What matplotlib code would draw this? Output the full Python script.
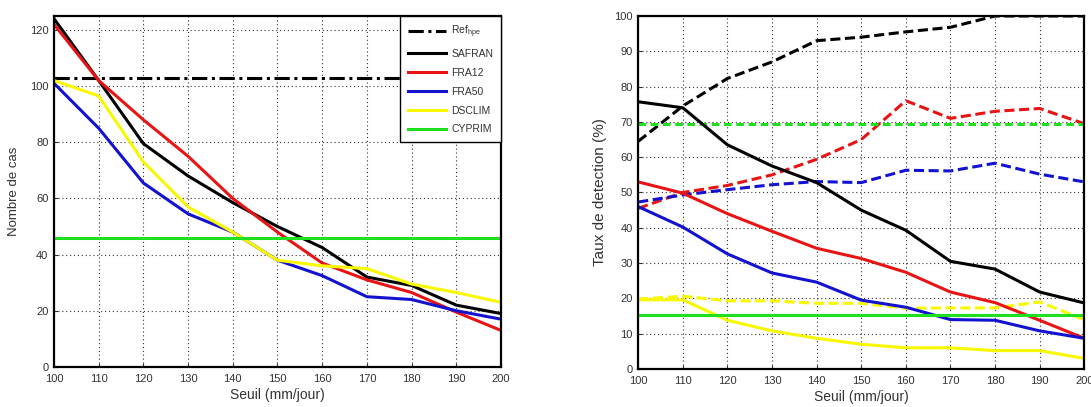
import matplotlib
matplotlib.use("Agg")
import matplotlib.pyplot as plt

seuil = [100, 110, 120, 130, 140, 150, 160, 170, 180, 190, 200]

# Left panel: Nombre de cas
ref_hpe = 103
safran_n = [124, 102, 79.5, 68, 58.5, 50, 42.5, 32, 29, 22, 19]
fra12_n = [122, 102, 88, 75, 60, 48, 37, 31, 26.5, 19.5, 13]
fra50_n = [101, 85, 65.5, 54.5, 48, 38, 32.5, 25, 24, 20, 17]
dsclim_n = [102, 96.5, 73, 57, 48, 38, 36, 35, 29.5, 26.5, 23]
cyprim_n = 46

# Right panel: Taux de detection (%) — solid and dashed
safran_s = [75.7, 74, 63.5, 57.5, 52.8, 45, 39.3, 30.5, 28.3, 21.8, 18.7]
safran_d = [64.5, 74.5, 82.3, 87, 93, 94, 95.5, 96.8, 100, 100, 100]
fra12_s = [53, 49.8, 44, 39, 34.2, 31.3, 27.4, 21.8, 18.8, 13.8, 8.7]
fra12_d = [45.5, 50, 52, 55, 59.4, 65, 76, 71, 73, 73.8, 69.5]
fra50_s = [46, 40.2, 32.6, 27.2, 24.6, 19.5, 17.5, 14, 13.8, 10.8, 8.7]
fra50_d = [47.3, 49.3, 50.8, 52.2, 53.1, 52.8, 56.3, 56.1, 58.3, 55.2, 53]
dsclim_s = [19.6, 19.6, 13.8, 10.8, 8.7, 7, 6, 6, 5.2, 5.2, 3]
dsclim_d = [19.8, 20.6, 19.3, 19.3, 18.6, 18.6, 17.2, 17.3, 17.3, 19, 14]
cyprim_s = 15.2
cyprim_d = 69.5

C_BLACK = "#000000"
C_RED = "#e81414"
C_BLUE = "#1212d0"
C_YEL = "#f8f800"
C_GRN = "#1ee01e"
C_TXT = "#333333"

plt.rcParams["font.family"] = ["Liberation Sans", "DejaVu Sans"]
plt.rcParams["mathtext.fontset"] = "custom"
plt.rcParams["mathtext.rm"] = "Liberation Sans"
fig = plt.figure(figsize=(10.91, 4.07), dpi=100)

ax1 = fig.add_axes([0.0495, 0.0985, 0.4097, 0.8624])
ax2 = fig.add_axes([0.585, 0.0934, 0.4088, 0.8673])

lw = 2.2
DASH = (0, (3.3, 1.5))

def style(ax):
    ax.set_xlim(100, 200)
    ax.set_xticks(seuil)
    ax.grid(True, linestyle=(0, (1, 2.5)), color="#333333", linewidth=0.8)
    ax.tick_params(direction="in", labelsize=8, length=3, colors=C_TXT)
    ax.tick_params(axis="x", pad=5)
    ax.tick_params(axis="y", pad=4)
    for sp in ax.spines.values():
        sp.set_linewidth(1.6)
    ax.set_xlabel("Seuil (mm/jour)", fontsize=10, color=C_TXT, labelpad=3)

# Left
ax1.axhline(ref_hpe, color=C_BLACK, lw=lw, linestyle=(0, (5, 1.5, 1, 1.5)),
            label=r"Ref$_{\mathregular{hpe}}$")
ax1.plot(seuil, safran_n, color=C_BLACK, lw=lw, label="SAFRAN")
ax1.plot(seuil, fra12_n, color=C_RED, lw=lw, label="FRA12")
ax1.plot(seuil, fra50_n, color=C_BLUE, lw=lw, label="FRA50")
ax1.plot(seuil, dsclim_n, color=C_YEL, lw=lw, label="DSCLIM")
ax1.axhline(cyprim_n, color=C_GRN, lw=lw, label="CYPRIM")
style(ax1)
ax1.set_ylim(0, 125)
ax1.set_yticks([0, 20, 40, 60, 80, 100, 120])
ax1.set_ylabel("Nombre de cas", fontsize=9.5, color=C_TXT, labelpad=7)
leg = ax1.legend(loc="upper right", fontsize=7.5, frameon=True, fancybox=False,
                 framealpha=1.0, edgecolor="black", handlelength=3.7,
                 labelspacing=0.85, borderpad=0.75, handletextpad=0.45,
                 borderaxespad=0.0)
leg.get_frame().set_linewidth(1.0)
for t in leg.get_texts():
    t.set_color(C_TXT)

# Right
ax2.plot(seuil, safran_d, color=C_BLACK, lw=lw, linestyle=DASH)
ax2.plot(seuil, fra12_d, color=C_RED, lw=lw, linestyle=DASH)
ax2.plot(seuil, fra50_d, color=C_BLUE, lw=lw, linestyle=DASH)
ax2.plot(seuil, dsclim_d, color=C_YEL, lw=lw, linestyle=DASH)
ax2.axhline(cyprim_d, color=C_GRN, lw=lw, linestyle=(0, (2.5, 1.5)))
ax2.plot(seuil, safran_s, color=C_BLACK, lw=lw)
ax2.plot(seuil, fra12_s, color=C_RED, lw=lw)
ax2.plot(seuil, fra50_s, color=C_BLUE, lw=lw)
ax2.plot(seuil, dsclim_s, color=C_YEL, lw=lw)
ax2.axhline(cyprim_s, color=C_GRN, lw=lw)
style(ax2)
ax2.set_ylim(0, 100)
ax2.set_yticks(range(0, 101, 10))
ax2.set_ylabel("Taux de detection (%)", fontsize=11, color=C_TXT, labelpad=5)

fig.savefig("out.png", dpi=100)
